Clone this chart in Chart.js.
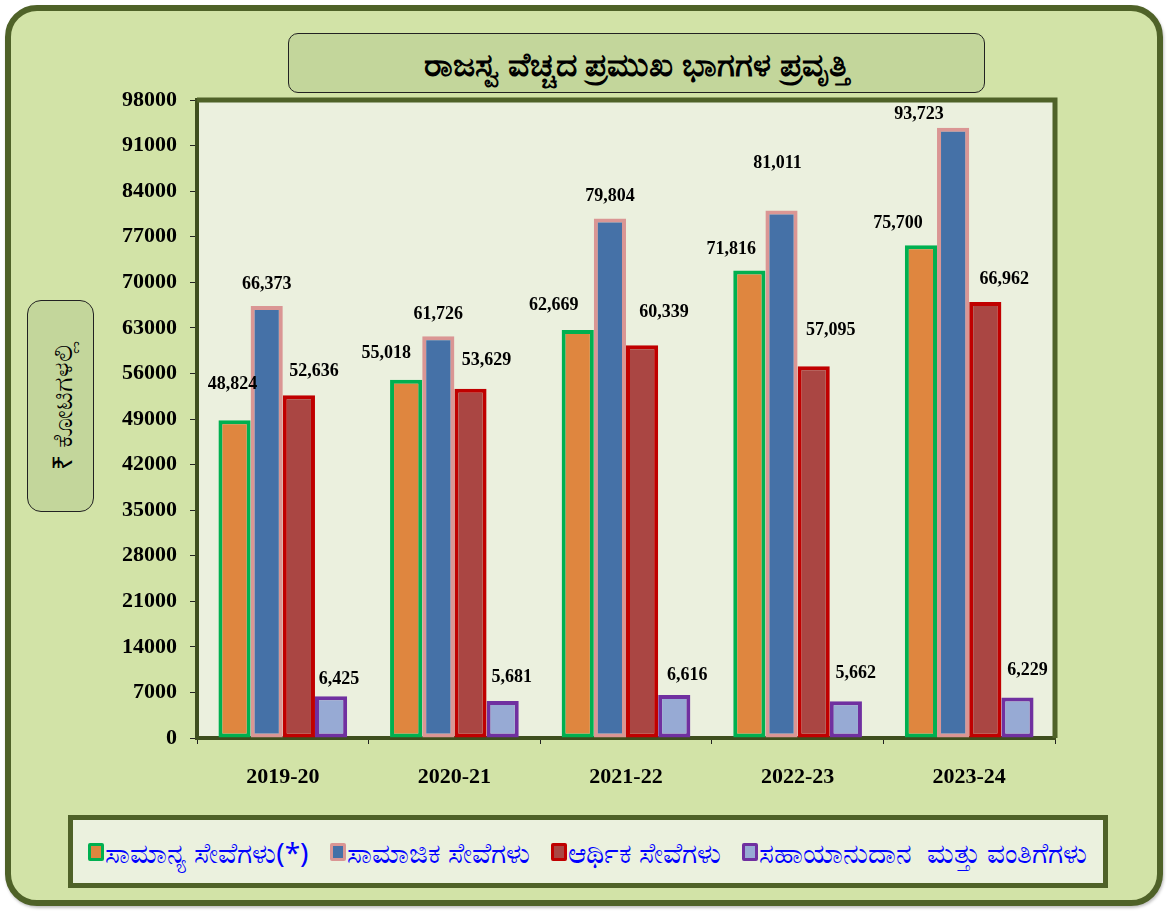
<!DOCTYPE html>
<html>
<head>
<meta charset="utf-8">
<script src="https://cdn.jsdelivr.net/npm/chart.js@4"></script>
<style>
  html, body { margin: 0; padding: 0; background: #ffffff; }
  body { width: 1168px; height: 911px; position: relative; overflow: hidden; font-family: "Noto Sans", "DejaVu Sans", sans-serif; }
  #card { position: absolute; left: 5px; top: 5px; width: 1146px; height: 889px; border: 6px solid #4F6228; border-radius: 32px; background: #D2E3A7; box-shadow: 1px 2px 3px rgba(0,0,0,0.25); }
  #wrap { position: absolute; left: 0; top: 0; width: 1168px; height: 911px; }
  #title { position: absolute; left: 288px; top: 33px; width: 695px; height: 58px; border: 1.5px solid #222; border-radius: 10px; background: #C3D69B; display: flex; align-items: center; justify-content: center; font-size: 33px; font-weight: bold; color: #000; }
  #ylab { position: absolute; left: 27px; top: 300px; width: 65px; height: 210px; border: 1.5px solid #222; border-radius: 14px; background: #C3D69B; }
  #ylab span { position: absolute; left: 50%; top: 50%; transform: translate(-50%, -50%) rotate(-90deg); white-space: nowrap; font-size: 27px; color: #000; }
  #legend { position: absolute; left: 68px; top: 815px; width: 1015px; height: 63px; border: 5px solid #4F6228; background: #EBF1DE; display: flex; align-items: center; padding-left: 15px; box-sizing: content-box; }
  .li { display: flex; align-items: center; margin-right: 21px; color: #0000FF; font-size: 28px; white-space: pre; }
  .sw { width: 10px; height: 12px; border: 3px solid; border-radius: 2px; margin-right: 1px; }
</style>
</head>
<body>
<div id="card"></div>
<div id="wrap"><canvas id="c" width="1168" height="911"></canvas></div>
<div id="title">ರಾಜಸ್ವ ವೆಚ್ಚದ ಪ್ರಮುಖ ಭಾಗಗಳ ಪ್ರವೃತ್ತಿ</div>
<div id="ylab"><span>₹ ಕೋಟಿಗಳಲ್ಲಿ</span></div>
<div id="legend"></div>
<script>
// ---- data ----
const categories = ['2019-20', '2020-21', '2021-22', '2022-23', '2023-24'];
const seriesNames = ['ಸಾಮಾನ್ಯ ಸೇವೆಗಳು(*)', 'ಸಾಮಾಜಿಕ ಸೇವೆಗಳು', 'ಆರ್ಥಿಕ ಸೇವೆಗಳು', 'ಸಹಾಯಾನುದಾನ  ಮತ್ತು ವಂತಿಗೆಗಳು'];
const generalServices = [48824, 55018, 62669, 71816, 75700];
const socialServices = [66373, 61726, 79804, 81011, 93723];
const economicServices = [52636, 53629, 60339, 57095, 66962];
const grantsContributions = [6425, 5681, 6616, 5662, 6229];
const yTicks = [0, 7000, 14000, 21000, 28000, 35000, 42000, 49000, 56000, 63000, 70000, 77000, 84000, 91000, 98000];

// ---- style ----
const fills = ['#DF863F', '#4571A7', '#AA4643', '#97AAD4'];
const borders = ['#00B050', '#DA9694', '#C00000', '#7030A0'];
// label offsets (dx, dy) relative to bar centre / bar top, per series per category
const labelOffsets = [
  [[-2,-36],[-20,-26],[-24,-25],[-18,-21],[-23,-22]],
  [[0,-22],[0,-22],[0,-22],[-4,-47],[-34,-14]],
  [[15,-24],[16,-29],[22,-33],[17,-36],[19,-23]],
  [[8,-17],[9,-24],[13,-20],[10,-28],[10,-27]]
];

const seriesValues = [generalServices, socialServices, economicServices, grantsContributions];

// legend (HTML, from series arrays)
const lg = document.getElementById('legend');
seriesNames.forEach((n, i) => {
  const d = document.createElement('div'); d.className = 'li';
  const s = document.createElement('div'); s.className = 'sw';
  s.style.background = fills[i]; s.style.borderColor = borders[i];
  const t = document.createElement('span'); t.textContent = n;
  d.appendChild(s); d.appendChild(t); lg.appendChild(d);
});

const areaPlugin = {
  id: 'area',
  beforeDraw(chart) {
    const a = chart.chartArea, ctx = chart.ctx;
    ctx.save();
    ctx.fillStyle = '#EBF0DE';
    ctx.fillRect(a.left, a.top, a.right - a.left, a.bottom - a.top);
    ctx.restore();
  },
  afterDraw(chart) {
    const a = chart.chartArea, ctx = chart.ctx;
    ctx.save();
    ctx.strokeStyle = '#4F6228';
    ctx.lineWidth = 5;
    ctx.beginPath();
    ctx.moveTo(a.left, a.top);
    ctx.lineTo(a.right, a.top);
    ctx.lineTo(a.right, a.bottom);
    ctx.stroke();
    ctx.restore();
  }
};

const labelPlugin = {
  id: 'vals',
  afterDatasetsDraw(chart) {
    const ctx = chart.ctx;
    ctx.save();
    ctx.font = 'bold 18px "Liberation Serif", "Times New Roman", serif';
    ctx.fillStyle = '#000';
    ctx.textAlign = 'center';
    ctx.textBaseline = 'middle';
    chart.data.datasets.forEach((ds, di) => {
      const meta = chart.getDatasetMeta(di);
      meta.data.forEach((el, i) => {
        const off = labelOffsets[di][i];
        ctx.fillText(ds.data[i].toLocaleString('en-US'), el.x + off[0], el.y + off[1]);
      });
    });
    ctx.restore();
  }
};

new Chart(document.getElementById('c'), {
  type: 'bar',
  data: {
    labels: categories,
    datasets: seriesValues.map((v, i) => ({
      label: seriesNames[i],
      data: v,
      backgroundColor: fills[i],
      borderColor: borders[i],
      borderWidth: 4,
      borderSkipped: false,
      barPercentage: 1.0,
      categoryPercentage: 0.75
    }))
  },
  options: {
    responsive: false,
    animation: false,
    layout: { padding: { left: 0, right: 113, top: 100, bottom: 113 } },
    plugins: { legend: { display: false }, tooltip: { enabled: false } },
    scales: {
      x: {
        afterFit(s) { s.height = 60; },
        grid: { drawOnChartArea: false, drawTicks: true, tickLength: 6, color: '#222', offset: true },
        border: { display: true, color: '#3E4E1E', width: 4 },
        ticks: { color: '#000', padding: 20, font: { family: '"Liberation Serif", "Times New Roman", serif', size: 22, weight: 'bold' } }
      },
      y: {
        min: 0, max: 98000,
        afterFit(s) { s.width = 197; },
        afterBuildTicks(s) { s.ticks = yTicks.map(v => ({ value: v })); },
        grid: { drawOnChartArea: false, drawTicks: true, tickLength: 7, color: '#222' },
        border: { display: true, color: '#3E4E1E', width: 4 },
        ticks: { color: '#000', padding: 13, callback: v => String(v), font: { family: '"Liberation Serif", "Times New Roman", serif', size: 22, weight: 'bold' } }
      }
    }
  },
  plugins: [areaPlugin, labelPlugin]
});
</script>
</body>
</html>
